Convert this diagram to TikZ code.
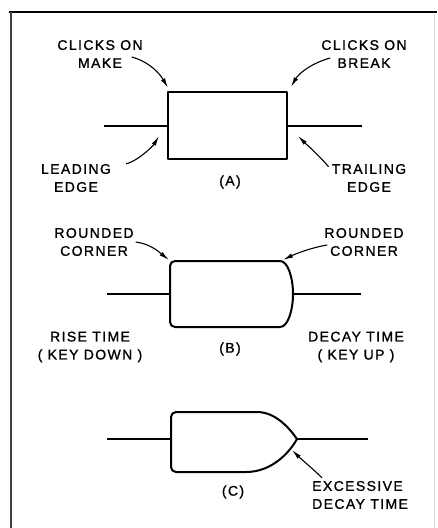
\documentclass[tikz,border=0pt]{standalone}
\usepackage{fontspec}
\newfontfamily\lettr[LetterSpace=10,FakeBold=1.2]{Liberation Sans}
\usetikzlibrary{arrows.meta}
\tikzset{
  lbl/.style={font=\lettr\fontsize{14}{18}\selectfont,align=center,inner sep=0pt},
  ptr/.style={-{Latex[length=10pt,width=4.5pt]},line width=1.1pt},
  outl/.style={line width=2pt,line join=round,line cap=round},
  wire/.style={line width=1.6pt}
}
\begin{document}
\begin{tikzpicture}[x=1pt,y=-1pt]
\useasboundingbox (0,0) rectangle (437,528);
% frame
\draw[line width=2.2pt] (9,12) -- (437,12);
\draw[line width=2pt,black!75] (11,12) -- (11,528);
\draw[line width=0.6pt,black!15] (434,14) -- (434,528);

% (A) square keying
\coordinate (a1) at (168,92); \coordinate (a3) at (287,159);
\coordinate (la) at (168,126); \coordinate (ra) at (287,126);
\draw[outl] (a1) rectangle (a3);
\draw[wire] (104,126) -- (la) (ra) -- (362,126);
\node[lbl] (mk) at (100,54) {CLICKS ON\\MAKE};
\node[lbl] (brk) at (364,54) {CLICKS ON\\BREAK};
\node[lbl] (led) at (76,178) {LEADING\\EDGE};
\node[lbl] (trl) at (369,178) {TRAILING\\EDGE};
\node[lbl] (capA) at (230,182) {(A)};
\draw[ptr] ([shift={(-11,3)}]mk.east) .. controls +(18,5) and +(-8,-14) .. ([shift={(0,-4)}]a1);
\draw[ptr] ([shift={(9,4)}]brk.west) .. controls +(-18,5) and +(8,-14) .. ([shift={(4,-5)}]a3|-a1);
\draw[ptr] ([shift={(15,0)}]led.north east) .. controls +(12,-3) and +(-6,10) .. ([shift={(-9,10)}]la);
\draw[ptr] ([shift={(-3,3)}]trl.north west) .. controls +(-10,-12) and +(8,8) .. ([shift={(11,10)}]ra);

% (B) rounded keying
\coordinate (b1) at (170,261); \coordinate (b2) at (280,261);
\coordinate (b3) at (280,327); \coordinate (b4) at (170,327);
\coordinate (lb) at (170,294); \coordinate (rb) at (293,294);
\draw[outl,rounded corners=5pt] (b2) -- (b1) -- (b4) -- (b3);
\draw[outl] (b2) .. controls (288,261) and (293,278) .. (rb)
  .. controls (293,310) and (288,327) .. (b3);
\draw[wire] (107,294) -- (lb) (rb) -- (361,294);
\node[lbl] (rnl) at (94,242) {ROUNDED\\CORNER};
\node[lbl] (rnr) at (364,242) {ROUNDED\\CORNER};
\node[lbl] (rise) at (90,347) {RISE TIME\\( KEY DOWN )};
\node[lbl] (dec) at (356,347) {DECAY TIME\\( KEY UP )};
\node[lbl] (capB) at (230,349) {(B)};
\draw[ptr] ([xshift=2pt]rnl.east) .. controls +(15,2) and +(-10,-8) .. ([shift={(-1,-1)}]b1);
\draw[ptr] ([shift={(3,3)}]rnr.west) .. controls +(-18,3) and +(10,-5) .. ([shift={(3,-1)}]b2);

% (C) excessive decay
\coordinate (c1) at (171,412); \coordinate (c2) at (257,412);
\coordinate (c3) at (246,472); \coordinate (c4) at (171,472);
\coordinate (lc) at (171,439); \coordinate (tip) at (297,439);
\draw[outl,rounded corners=5pt] (c2) -- (c1) -- (c4) -- (c3);
\draw[outl] (c2) .. controls (276,412) and (290,429) .. (tip)
  .. controls (288,455) and (270,472) .. (c3);
\draw[wire] (107,439) -- (lc) (tip) -- (368,439);
\node[lbl] (capC) at (233,492) {(C)};
\node[lbl,align=left,anchor=west] (exd) at (312,495) {EXCESSIVE\\DECAY TIME};
\draw[ptr] ([shift={(10,-3)}]exd.north west) .. controls +(-8,-8) and +(8,8) .. ([shift={(-5,11)}]tip);
\end{tikzpicture}
\end{document}
